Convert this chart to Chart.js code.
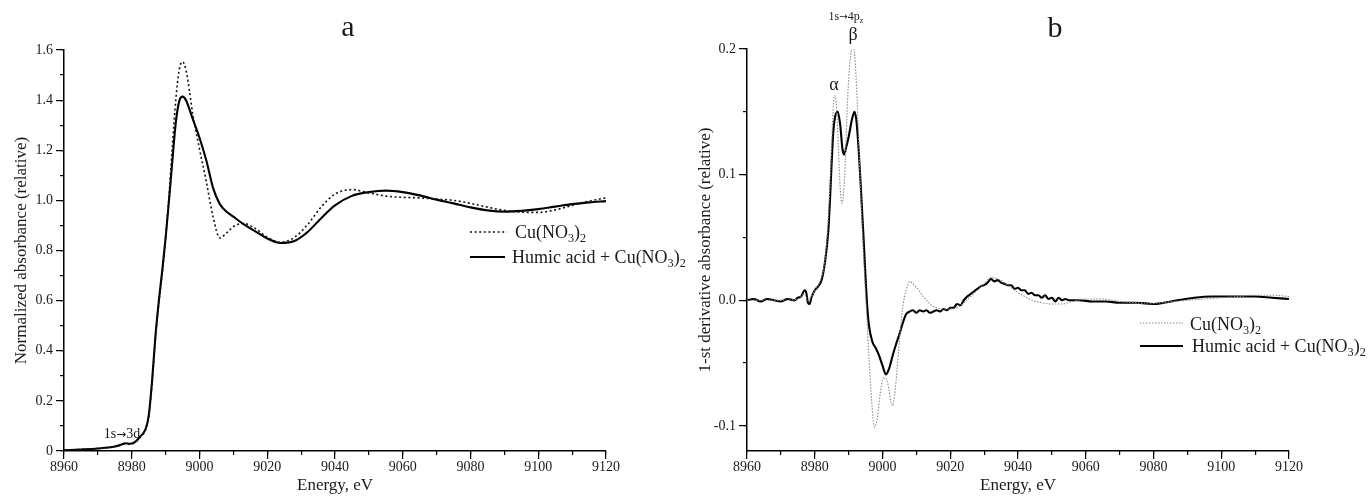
<!DOCTYPE html>
<html><head><meta charset="utf-8">
<script src="https://cdn.jsdelivr.net/npm/chart.js@4.4.1/dist/chart.umd.min.js"></script>
<style>
html,body{margin:0;padding:0;background:#fff;}
#wrap{position:relative;width:1371px;height:496px;overflow:hidden;background:#fff;}
canvas{position:absolute;top:0;}
#ca{left:0;} #cb{left:685px;}
</style></head><body>
<div id="wrap"><canvas id="ca" width="685" height="496"></canvas><canvas id="cb" width="686" height="496"></canvas></div>
<script>
// ---------- Panel a: normalized absorbance ----------
const energyA = [8960, 8965, 8970, 8975, 8977, 8978, 8979.5, 8981, 8982.5,
  8984, 8985, 8986, 8987, 8988, 8989, 8990, 8991, 8992, 8993, 8994, 8995, 8996, 8997, 8998,
  9000, 9002, 9004, 9006, 9008, 9010,
  9013, 9016, 9020, 9024, 9028, 9032, 9036, 9040,
  9045, 9050, 9055, 9060, 9065, 9070, 9075, 9080, 9085, 9090, 9095, 9100, 9105, 9110, 9115, 9120];
const humicA = [0.003, 0.006, 0.010, 0.018, 0.026, 0.031, 0.029, 0.036, 0.058,
  0.085, 0.140, 0.280, 0.460, 0.600, 0.720, 0.850, 1.000, 1.160, 1.310, 1.395, 1.414, 1.400, 1.365, 1.325,
  1.250, 1.160, 1.050, 0.985, 0.955, 0.935,
  0.905, 0.880, 0.848, 0.830, 0.838, 0.875, 0.930, 0.980,
  1.018, 1.033, 1.039, 1.033, 1.020, 1.003, 0.988, 0.972, 0.960, 0.955, 0.958, 0.965, 0.975, 0.985, 0.992, 0.997];
const cuNO3A = [0.003, 0.006, 0.010, 0.018, 0.024, 0.028, 0.027, 0.034, 0.055,
  0.082, 0.135, 0.270, 0.450, 0.590, 0.710, 0.850, 1.020, 1.220, 1.400, 1.520, 1.553, 1.520, 1.440, 1.345,
  1.205, 1.075, 0.935, 0.850, 0.870, 0.895,
  0.908, 0.892, 0.853, 0.833, 0.852, 0.905, 0.975, 1.025,
  1.043, 1.030, 1.017, 1.012, 1.010, 1.005, 1.000, 0.988, 0.973, 0.960, 0.953, 0.952, 0.962, 0.980, 0.997, 1.010];

// ---------- Panel b: first derivative ----------
const energyHB = [
  8960,8962,8964,8966,8968,8970,8972,8974,8975,8976,
  8977,8977.5,8978,8978.5,8979,8980,8981,8982,8983,8984,
  8984.5,8985,8985.5,8986,8986.8,8987.5,8988.2,8988.7,8989.3,8990,
  8991,8991.7,8992.3,8993,8993.5,8994,8994.5,8995,8995.5,8996,
  8997,8998,8999,9000,9001,9002,9003,9004,9005,9006,
  9007,9008,9009,9010,9011,9012,9013,9014,9015,9016,
  9017,9018,9019,9020,9021,9022,9023,9024,9025,9026,
  9027,9028,9029,9030,9031,9032,9033,9034,9035,9036,
  9037,9038,9039,9040,9041,9042,9043,9044,9045,9046,
  9047,9048,9049,9050,9051,9052,9053,9054,9055,9058,
  9062,9066,9070,9075,9080,9083,9087,9092,9097,9103,
  9110,9115,9120];
const humicB = [
  0.000,0.001,-0.001,0.001,0.000,-0.001,0.001,0.000,0.002,0.003,
  0.008,0.006,-0.002,-0.003,0.002,0.008,0.011,0.016,0.030,0.055,
  0.080,0.110,0.135,0.146,0.150,0.140,0.120,0.116,0.122,0.130,
  0.144,0.150,0.143,0.118,0.095,0.070,0.045,0.018,-0.005,-0.020,
  -0.033,-0.038,-0.044,-0.052,-0.059,-0.054,-0.044,-0.035,-0.027,-0.018,
  -0.011,-0.009,-0.008,-0.010,-0.008,-0.009,-0.008,-0.010,-0.009,-0.008,
  -0.009,-0.007,-0.008,-0.006,-0.006,-0.003,-0.004,0.000,0.003,0.005,
  0.007,0.009,0.011,0.012,0.014,0.017,0.015,0.016,0.014,0.013,
  0.012,0.012,0.009,0.010,0.008,0.008,0.005,0.006,0.004,0.004,
  0.002,0.004,0.001,0.002,-0.001,0.002,0.000,0.001,0.000,0.000,
  -0.001,-0.001,-0.002,-0.002,-0.003,-0.002,0.000,0.002,0.003,0.003,
  0.003,0.002,0.001];
const energyCB = [
  8960,8965,8970,8975,8977,8978,8979,8980,8981,8982,
  8983,8984,8984.8,8985.3,8985.8,8986.3,8987,8987.5,8988,8988.5,
  8989,8989.7,8990.4,8991.2,8991.8,8992.5,8993.2,8994,8994.7,8995.3,
  8996,8996.8,8997.6,8998.4,8999.3,9000.2,9000.9,9001.7,9002.4,9003,
  9003.6,9004.3,9005,9005.7,9006.5,9007.3,9008.1,9009,9010,9011,
  9012,9013,9014,9015,9016,9018,9020,9022,9024,9026,
  9028,9030,9032,9034,9036,9038,9040,9042,9044,9047,
  9050,9053,9056,9060,9065,9070,9075,9078,9082,9086,
  9090,9095,9100,9105,9110,9115,9120];
const cuNO3B = [
  0.000,0.000,0.000,0.001,0.005,0.000,0.003,0.008,0.012,0.018,
  0.032,0.065,0.110,0.145,0.163,0.158,0.120,0.090,0.077,0.085,
  0.110,0.160,0.190,0.201,0.195,0.160,0.110,0.060,0.020,-0.010,
  -0.045,-0.080,-0.101,-0.095,-0.075,-0.062,-0.062,-0.068,-0.080,-0.084,
  -0.075,-0.055,-0.032,-0.012,0.003,0.011,0.015,0.013,0.010,0.007,
  0.003,0.000,-0.003,-0.005,-0.006,-0.007,-0.007,-0.006,-0.002,0.003,
  0.008,0.013,0.018,0.017,0.014,0.010,0.006,0.003,0.000,-0.002,
  -0.003,-0.003,-0.001,0.001,0.001,-0.001,-0.002,-0.003,-0.002,-0.001,
  0.000,0.001,0.002,0.003,0.004,0.004,0.003];

const seriesNames = ['Cu(NO3)2', 'Humic acid + Cu(NO3)2'];
const FONT = "'Liberation Serif','Times New Roman',serif";
const ARROWFONT = "'DejaVu Sans',sans-serif";
const INK = '#1a1a1a';

function pts(xs, ys){ return xs.map((x,i)=>({x:x, y:ys[i]})); }

// part kinds: 0 normal, 1 subscript, 2 arrow glyph
function partFont(kind, size){
  if (kind === 1) return (size*0.68)+'px '+FONT;
  if (kind === 2) return (size*0.85)+'px '+ARROWFONT;
  return size+'px '+FONT;
}
function richWidth(ctx, parts, size){
  let w = 0;
  for (const [t, k] of parts){ ctx.font = partFont(k, size); w += ctx.measureText(t).width; }
  return w;
}
function drawRich(ctx, parts, x, y, size, align){
  ctx.save(); ctx.fillStyle = INK; ctx.textBaseline='alphabetic'; ctx.textAlign='left';
  let cx = x;
  if (align === 'center') cx = x - richWidth(ctx, parts, size)/2;
  for (const [t, k] of parts){
    ctx.font = partFont(k, size);
    ctx.fillText(t, cx, y + (k === 1 ? size*0.22 : 0));
    cx += ctx.measureText(t).width;
  }
  ctx.restore();
}
const CU = [['Cu(NO',0],['3',1],[')',0],['2',1]];
const HU = [['Humic acid + Cu(NO',0],['3',1],[')',0],['2',1]];

const decor = {
  id: 'decor',
  afterDraw(chart, args, o){
    const ctx = chart.ctx;
    ctx.save();
    ctx.fillStyle = INK; ctx.font = o.titleSize+'px '+FONT; ctx.textAlign='center'; ctx.textBaseline='alphabetic';
    ctx.fillText(o.title, o.titleX, o.titleY);
    ctx.restore();
    for (const r of o.legend){
      ctx.save();
      ctx.strokeStyle = r.color; ctx.lineWidth = r.width; ctx.setLineDash(r.dash);
      ctx.beginPath(); ctx.moveTo(r.x1, r.ly); ctx.lineTo(r.x2, r.ly); ctx.stroke();
      ctx.restore();
      drawRich(ctx, r.parts, r.tx, r.ty, r.size, 'left');
    }
    const xs = chart.scales.x, ys = chart.scales.y;
    for (const n of o.notes){
      drawRich(ctx, n.parts, xs.getPixelForValue(n.e), ys.getPixelForValue(n.v), n.size, 'center');
    }
  }
};

function makeScales(ymin, ymax, ystep, yminor, ytitle, ywidth, ytitlePad, fmt){
  return {
    xMinor: {type:'linear', position:'bottom', min:8960, max:9120, weight:0,
      ticks:{stepSize:10, display:false, autoSkip:false},
      grid:{drawOnChartArea:false, drawTicks:true, tickLength:4, color:'#000', lineWidth:1.2},
      border:{display:false}, afterFit(s){ s.height = 0; }},
    x: {type:'linear', position:'bottom', min:8960, max:9120, weight:1,
      ticks:{stepSize:20, autoSkip:false, maxRotation:0, padding:0, color:INK, font:{family:FONT, size:14},
        callback:(v)=>String(v)},
      grid:{drawOnChartArea:false, tickLength:8, color:'#000', lineWidth:1.2},
      border:{display:true, color:'#000', width:1.5},
      title:{display:true, text:'Energy, eV', color:INK, font:{family:FONT, size:17}, padding:{top:-4, bottom:0}},
      afterFit(s){ s.height = 45; }},
    yMinor: {type:'linear', position:'left', min:ymin, max:ymax, weight:0,
      ticks:{stepSize:yminor, display:false, autoSkip:false, includeBounds:false},
      grid:{drawOnChartArea:false, drawTicks:true, tickLength:4, color:'#000', lineWidth:1.2},
      border:{display:false}, afterFit(s){ s.width = 0; }},
    y: {type:'linear', position:'left', min:ymin, max:ymax, weight:1,
      ticks:{stepSize:ystep, autoSkip:false, includeBounds:false, padding:3, color:INK, font:{family:FONT, size:14},
        callback:fmt},
      grid:{drawOnChartArea:false, tickLength:8, color:'#000', lineWidth:1.2},
      border:{display:true, color:'#000', width:1.5},
      title:{display:true, text:ytitle, color:INK, font:{family:FONT, size:17}, padding:{top:ytitlePad, bottom:0}},
      afterFit(s){ s.width = ywidth; }}
  };
}

Chart.defaults.animation = false;

new Chart(document.getElementById('ca'), {
  type:'line',
  data:{datasets:[
    {label:seriesNames[0], data:pts(energyA, cuNO3A), borderColor:'#111', borderWidth:1.6, borderDash:[2,2.6],
      pointRadius:0, cubicInterpolationMode:'monotone', fill:false, xAxisID:'x', yAxisID:'y'},
    {label:seriesNames[1], data:pts(energyA, humicA), borderColor:'#000', borderWidth:2.1,
      pointRadius:0, cubicInterpolationMode:'monotone', fill:false, xAxisID:'x', yAxisID:'y'}
  ]},
  options:{
    responsive:false, devicePixelRatio:1, animation:false,
    layout:{padding:{left:0, top:50, right:79, bottom:0}},
    scales: makeScales(0, 1.6, 0.2, 0.1, 'Normalized absorbance (relative)', 64, 11,
      (v)=> Math.abs(v)<1e-9 ? '0' : v.toFixed(1)),
    plugins:{
      legend:{display:false}, tooltip:{enabled:false},
      decor:{
        title:'a', titleSize:30, titleX:348, titleY:36,
        legend:[
          {x1:470, x2:507, ly:232, color:'#111', width:1.6, dash:[2,2.6], tx:515, ty:238, size:18, parts:CU},
          {x1:470, x2:505, ly:257, color:'#000', width:2.1, dash:[], tx:512, ty:263, size:18, parts:HU}
        ],
        notes:[ {e:8977.1, v:0.05, size:14, parts:[['1s',0],['\u2192',2],['3d',0]]} ]
      }
    }
  },
  plugins:[decor]
});

new Chart(document.getElementById('cb'), {
  type:'line',
  data:{datasets:[
    {label:seriesNames[0], data:pts(energyCB, cuNO3B), borderColor:'#8a8a8a', borderWidth:1.1, borderDash:[1.5,1.5],
      pointRadius:0, cubicInterpolationMode:'monotone', fill:false, xAxisID:'x', yAxisID:'y'},
    {label:seriesNames[1], data:pts(energyHB, humicB), borderColor:'#000', borderWidth:2.1,
      pointRadius:0, cubicInterpolationMode:'monotone', fill:false, xAxisID:'x', yAxisID:'y'}
  ]},
  options:{
    responsive:false, devicePixelRatio:1, animation:false,
    layout:{padding:{left:0, top:49, right:82, bottom:0}},
    scales: makeScales(-0.12, 0.2, 0.1, 0.05, '1-st derivative absorbance (relative)', 62, 10,
      (v)=> v.toFixed(1)),
    plugins:{
      legend:{display:false}, tooltip:{enabled:false},
      decor:{
        title:'b', titleSize:30, titleX:370, titleY:37,
        legend:[
          {x1:455, x2:498, ly:323, color:'#8a8a8a', width:1.1, dash:[1.5,1.5], tx:505, ty:330, size:18, parts:CU},
          {x1:455, x2:498, ly:346, color:'#000', width:2.1, dash:[], tx:507, ty:352, size:18, parts:HU}
        ],
        notes:[
          {e:8985.7, v:0.1676, size:18, parts:[['\u03b1',0]]},
          {e:8991.3, v:0.2075, size:18, parts:[['\u03b2',0]]},
          {e:8989.2, v:0.2227, size:12, parts:[['1s',0],['\u2192',2],['4p',0],['z',1]]}
        ]
      }
    }
  },
  plugins:[decor]
});
</script>
</body></html>
